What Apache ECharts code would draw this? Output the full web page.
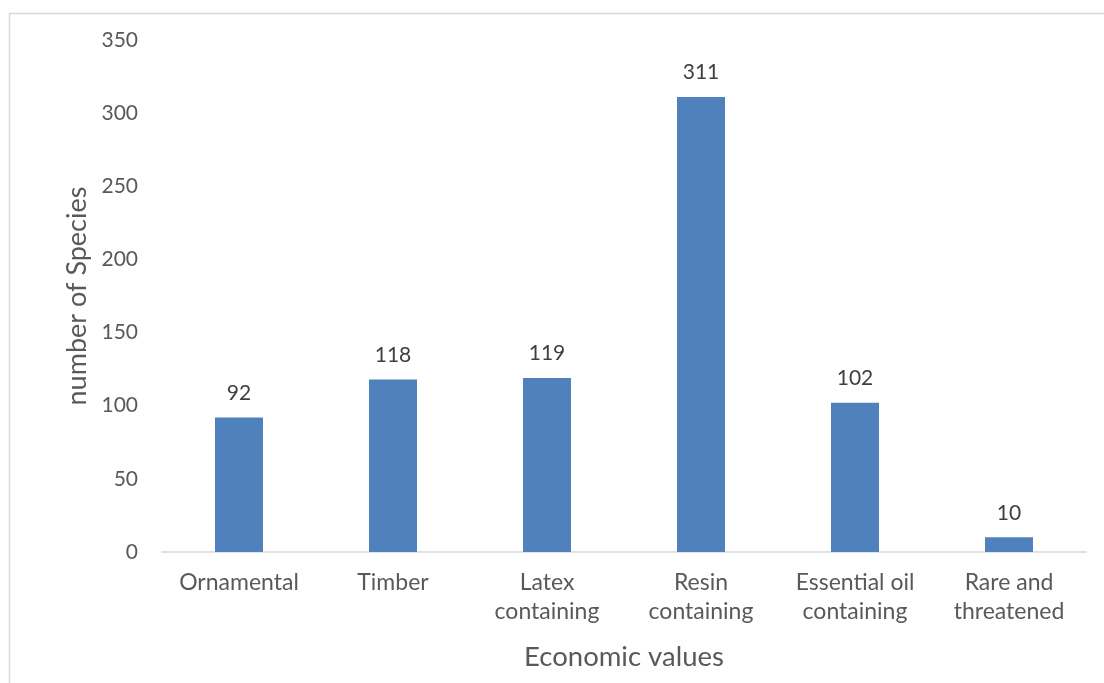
<!DOCTYPE html>
<html>
<head>
<meta charset="utf-8">
<style>
  html, body { margin: 0; padding: 0; background: #ffffff; }
  #chart { width: 1104px; height: 683px; }
</style>
<script src="https://cdn.jsdelivr.net/npm/echarts@6/dist/echarts.min.js"></script>
</head>
<body>
<div id="chart"></div>
<script>
// Economic uses of the recorded species
const categories = [
  'Ornamental',
  'Timber',
  'Latex\ncontaining',
  'Resin\ncontaining',
  'Essential oil\ncontaining',
  'Rare and\nthreatened'
];
const speciesCounts = [92, 118, 119, 311, 102, 10];
const yTicks = { min: 0, max: 350, interval: 50 };

const FONT = 'Lato, "Noto Sans", sans-serif';

const chart = echarts.init(document.getElementById('chart'), null, { renderer: 'canvas' });

chart.setOption({
  backgroundColor: '#ffffff',
  animation: false,
  graphic: [{
    type: 'rect',
    silent: true,
    shape: { x: 9.5, y: 13.5, width: 1200, height: 1000 },
    style: { fill: 'none', stroke: '#d9d9d9', lineWidth: 1.5 }
  }],
  grid: { left: 162, right: 18, top: 40, bottom: 131, containLabel: false, outerBoundsMode: 'none' },
  xAxis: {
    type: 'category',
    data: categories,
    name: 'Economic values',
    nameLocation: 'middle',
    nameGap: 91,
    nameTextStyle: { fontFamily: FONT, fontSize: 27.5, color: '#595959' },
    axisLine: { show: true, lineStyle: { color: '#d9d9d9', width: 1.5 } },
    axisTick: { show: false },
    axisLabel: {
      interval: 0,
      margin: 16,
      fontFamily: FONT,
      fontSize: 23,
      lineHeight: 29,
      color: '#595959'
    },
    splitLine: { show: false }
  },
  yAxis: {
    type: 'value',
    min: yTicks.min,
    max: yTicks.max,
    interval: yTicks.interval,
    name: 'number of Species',
    nameLocation: 'middle',
    nameGap: 70,
    nameTextStyle: { fontFamily: FONT, fontSize: 27, color: '#595959' },
    axisLine: { show: false },
    axisTick: { show: false },
    axisLabel: { margin: 24, fontFamily: FONT, fontSize: 21, color: '#595959' },
    splitLine: { show: false }
  },
  series: [{
    type: 'bar',
    data: speciesCounts,
    barWidth: 48,
    itemStyle: { color: '#4f81bd' },
    label: {
      show: true,
      position: 'top',
      distance: 14,
      fontFamily: FONT,
      fontSize: 21,
      color: '#404040'
    }
  }]
});
</script>
</body>
</html>
